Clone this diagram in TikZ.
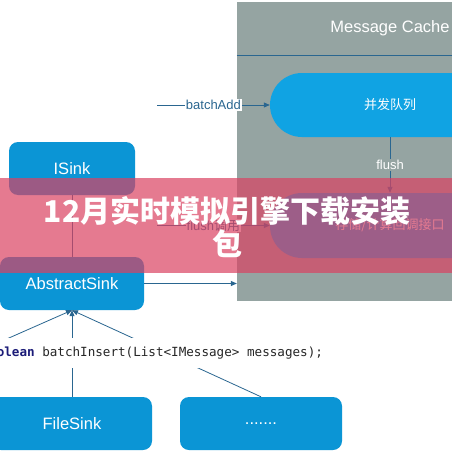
\documentclass[tikz,border=0pt]{standalone}
\usepackage{fontspec}
\setmainfont{Liberation Sans}
\setmonofont{DejaVu Sans Mono}
\newfontfamily\cjk{Noto Sans CJK SC}
\usetikzlibrary{arrows.meta}
\definecolor{panelgrey}{HTML}{95A4A2}
\definecolor{pillblue}{HTML}{10A3E3}
\definecolor{sinkblue}{HTML}{0B95D5}
\definecolor{linkblue}{HTML}{2A6690}
\definecolor{codenavy}{HTML}{1C1C78}
\definecolor{bannerred}{HTML}{DA4262}

\begin{document}
\begin{tikzpicture}[x=1pt,y=-1pt,
  sink/.style={rectangle,rounded corners=9pt,fill=sinkblue,text=white,minimum height=53pt,font=\fontsize{16.5}{18}\selectfont},
  pill/.style={rectangle,rounded corners=32pt,fill=pillblue,text=white,minimum width=240pt,minimum height=64pt,font=\cjk\fontsize{13}{15}\selectfont},
  link/.style={draw=linkblue,line width=0.8pt},
  flow/.style={link,-{Triangle[length=6pt,width=5pt]}},
  label/.style={text=linkblue,inner sep=1pt,font=\fontsize{13}{15}\selectfont}]
\path[use as bounding box] (0,0) rectangle (452,452);
\clip (0,0) rectangle (452,452);
\fill[white] (0,0) rectangle (452,452);

% message cache panel
\node (cache) at (390,151.5) [fill=panelgrey,minimum width=306pt,minimum height=299pt,inner sep=0pt] {};
\node (cachehead) at (390,28.5) [minimum width=306pt,minimum height=53pt,text=white,font=\fontsize{16.5}{18}\selectfont] {Message Cache};
\draw [draw=linkblue,line width=0.6pt] (cachehead.south west) -- (cachehead.south east);

\node (queue) at (390,105) [pill] {并发队列};
\node (store) at (390,225.5) [pill,minimum height=65pt] {存储/计算回调接口};

\coordinate (addsrc) at (157,105);
\coordinate (flushsrc) at (157,225.5);
\draw [flow] (addsrc) -- node[label,fill=white] {batchAdd} (queue);
\draw [flow] (flushsrc) -- node[label,fill=white] {flush{\cjk 调用}} (store);
\draw [flow] (queue) -- node[fill=panelgrey,text=white,inner sep=1pt,font=\fontsize{13}{15}\selectfont] {flush} (store);

% sinks
\node (isink) at (72,168.5) [sink,minimum width=126pt] {ISink};
\node (abstract) at (72,283.5) [sink,minimum width=144pt] {AbstractSink};
\node (filesink) at (72,423.5) [sink,minimum width=160pt] {FileSink};
\node (more) at (261,423.5) [sink,minimum width=162pt] {\raisebox{-2pt}{.......}};
\coordinate (offsink) at (-125,397);

\draw [link] (isink) -- (abstract);
\draw [flow] (abstract) -- (abstract -| cache.west);
\draw [flow] (filesink) -- (abstract);
\draw [flow] (more.north) -- (abstract.south);
\draw [flow] (offsink) -- (abstract.south);

\node (code) at (-18.6,353) [anchor=west,fill=white,inner sep=0pt,minimum height=30pt,text=black!85,font=\ttfamily\fontsize{12.6}{14}\selectfont] {\textcolor{codenavy}{\bfseries boolean} batchInsert(List<IMessage> messages);};

% banner
\fill [bannerred,opacity=0.7] (0,178) rectangle (452,273);
\node (title) at (227,227.5) [text=white,align=center,font=\cjk\bfseries\fontsize{30}{33}\selectfont] {12月实时模拟引擎下载安装\\包};
\end{tikzpicture}
\end{document}
